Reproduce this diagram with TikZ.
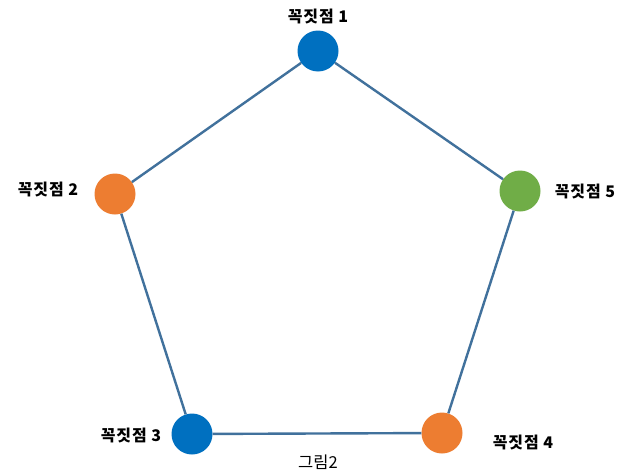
\documentclass[tikz,border=0pt]{standalone}
\usepackage{fontspec}
\newfontfamily\kr{Noto Sans CJK KR}
\newfontfamily\krs{Noto Sans CJK KR}[LetterSpace=6]
\definecolor{vblue}{HTML}{0070C0}
\definecolor{vorange}{HTML}{ED7D31}
\definecolor{vgreen}{HTML}{70AD47}
\definecolor{edgec}{HTML}{41719C}
\begin{document}
\begin{tikzpicture}[x=1pt,y=-1pt,
  vert/.style={circle,minimum size=41pt,inner sep=0pt},
  lbl/.style={font=\krs\bfseries\fontsize{16}{18}\selectfont,inner sep=0pt},
  edge/.style={draw=edgec,line width=2.4pt}]
\useasboundingbox[fill=white] (0,0) rectangle (619,474);
\node[vert,fill=vblue] (v1) at (318,51) {};
\node[vert,fill=vorange] (v2) at (115,194) {};
\node[vert,fill=vgreen] (v5) at (520,191) {};
\node[vert,fill=vblue] (v3) at (192,434) {};
\node[vert,fill=vorange] (v4) at (442,433) {};
\draw[edge] (v1) -- (v2);
\draw[edge] (v2) -- (v3);
\draw[edge] (v3) -- (v4);
\draw[edge] (v4) -- (v5);
\draw[edge] (v5) -- (v1);
\node[lbl] (l1) at (318,16) {꼭짓점 1};
\node[lbl] (l2) at (48,189) {꼭짓점 2};
\node[lbl] (l5) at (585,191) {꼭짓점 5};
\node[lbl] (l3) at (131,435) {꼭짓점 3};
\node[lbl] (l4) at (523,442) {꼭짓점 4};
\node[font=\kr\fontsize{16.5}{18}\selectfont,inner sep=0pt] (cap) at (318,462) {그림2};
\end{tikzpicture}
\end{document}
